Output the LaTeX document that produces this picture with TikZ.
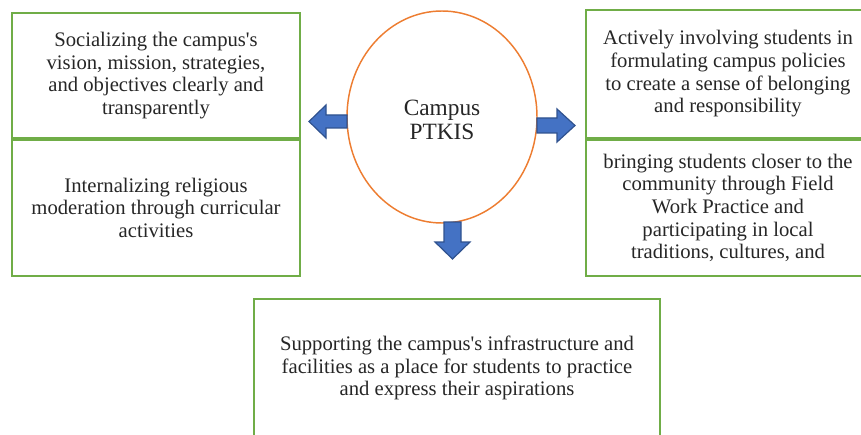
\documentclass[tikz,border=0pt]{standalone}
\usepackage{fontspec}
\setmainfont{Liberation Serif}
\usetikzlibrary{positioning,shapes.geometric}

\definecolor{boxgreen}{HTML}{70AD47}
\definecolor{ringorange}{HTML}{ED7D31}
\definecolor{arrowblue}{HTML}{4472C4}
\definecolor{arrowedge}{HTML}{2F528F}

\tikzset{
  panel/.style={draw=boxgreen, line width=1.4pt, inner sep=0pt, align=center,
    text=black!85, font=\fontsize{15.5}{17}\selectfont},
  ring/.style={draw=ringorange, line width=1.1pt, ellipse, inner sep=0pt,
    minimum width=142.5pt, minimum height=159pt},
  ringtext/.style={align=center, text=black!85, font=\fontsize{17.5}{18}\selectfont},
  blockarrow/.style={fill=arrowblue, draw=arrowedge, line width=0.9pt, line join=miter}
}

\begin{document}
\begin{tikzpicture}[x=0.75pt,y=-0.75pt]
    \useasboundingbox (0,0) rectangle (861,435);
    \clip (0,0) rectangle (861,435);
    %% left column
    \node[panel, minimum width=216pt, minimum height=93.75pt] (vision) at (156,75.5)
        {Socializing the campus\textquotesingle s\\vision, mission, strategies,\\and objectives clearly and\\transparently};
    \node[panel, minimum width=216pt, minimum height=102pt, below=0pt of vision] (moderation)
        {Internalizing religious\\moderation through curricular\\activities};
    %% right column
    \node[panel, minimum width=213pt, minimum height=96pt] (policy) at (728,74)
        {Actively involving students in\\formulating campus policies\\to create a sense of belonging\\and responsibility};
    \node[panel, minimum width=213pt, minimum height=102pt, below=0pt of policy] (community)
        {bringing students closer to the\\community through Field\\Work Practice and\\participating in local\\traditions, cultures, and};
    %% bottom
    \node[panel, minimum width=304.5pt, minimum height=103.5pt] (facilities) at (457,368)
        {Supporting the campus\textquotesingle s infrastructure and\\facilities as a place for students to practice\\and express their aspirations};
    %% centre
    \node[ring] (campus) at (442,117) {};
    \node[ringtext] (campuslabel) at ([yshift=-2.5pt]campus.center) {Campus\\PTKIS};
    %% arrows
    \draw[blockarrow] (347,115) -- (326,115) -- (326,105) -- (309,121.5) -- (326,138) -- (326,128) -- (347,128) -- cycle;
    \draw[blockarrow] (537,118) -- (557,118) -- (557,109) -- (575,125.5) -- (557,142) -- (557,133) -- (537,133) -- cycle;
    \draw[blockarrow] (444,222) -- (461,222) -- (461,242) -- (470,242) -- (452.5,259) -- (435,242) -- (444,242) -- cycle;
\end{tikzpicture}
\end{document}
